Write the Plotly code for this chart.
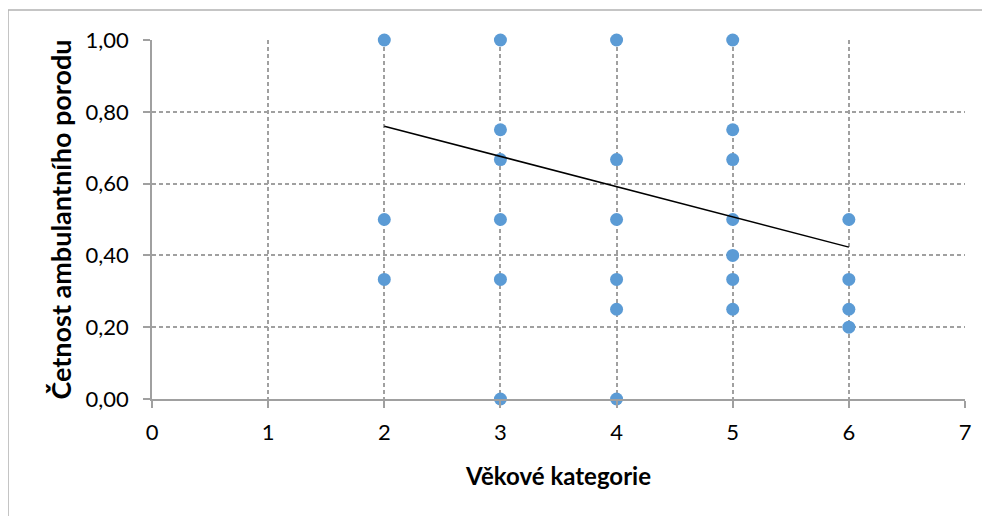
import plotly.graph_objects as go

# pozorované hodnoty (věková kategorie, četnost)
x_vals = [2, 2, 2,
          3, 3, 3, 3, 3, 3,
          4, 4, 4, 4, 4, 4,
          5, 5, 5, 5, 5, 5, 5,
          6, 6, 6, 6]
y_vals = [1.00, 0.50, 0.333,
          1.00, 0.75, 0.667, 0.50, 0.333, 0.00,
          1.00, 0.667, 0.50, 0.333, 0.25, 0.00,
          1.00, 0.75, 0.667, 0.50, 0.40, 0.333, 0.25,
          0.50, 0.333, 0.25, 0.20]

# lineární trend (koncové body)
trend_x = [2, 6]
trend_y = [0.760, 0.423]

x_ticks = [0, 1, 2, 3, 4, 5, 6, 7]
y_ticks = [0.0, 0.2, 0.4, 0.6, 0.8, 1.0]
y_labels = ["0,00", "0,20", "0,40", "0,60", "0,80", "1,00"]

FONT = "Lato, Open Sans, sans-serif"
GRID = "#a0a0a0"

fig = go.Figure()
fig.add_trace(go.Scatter(x=x_vals, y=y_vals, mode="markers", cliponaxis=False,
                         marker=dict(color="#5b9bd5", size=13), showlegend=False))
fig.add_trace(go.Scatter(x=trend_x, y=trend_y, mode="lines", cliponaxis=False,
                         line=dict(color="black", width=1.5), showlegend=False))

# rámeček grafu
fig.add_shape(type="rect", xref="paper", yref="paper",
              x0=-0.1771, x1=1.06, y0=-0.36, y1=1.0836,
              line=dict(color="#b3b3b3", width=1.5), layer="below")

fig.update_layout(
    width=990, height=516,
    margin=dict(l=144, r=33, t=32, b=125),
    paper_bgcolor="white", plot_bgcolor="white",
    font=dict(family=FONT, color="black"),
    xaxis=dict(range=[0, 7], tickvals=x_ticks, showgrid=True, gridcolor=GRID,
               griddash="4px,3px", gridwidth=1.5, zeroline=False,
               showline=True, linecolor=GRID, linewidth=1.5,
               ticks="outside", ticklen=7, tickcolor=GRID, tickwidth=1.5,
               tickfont=dict(size=22), ticklabelstandoff=6,
               title=dict(text="<b>Věkové kategorie</b>", font=dict(size=24), standoff=24)),
    yaxis=dict(range=[0, 1], tickvals=y_ticks, ticktext=y_labels, showgrid=True,
               gridcolor=GRID, griddash="4px,3px", gridwidth=1.5, zeroline=False,
               showline=True, linecolor=GRID, linewidth=1.5,
               ticks="outside", ticklen=7, tickcolor=GRID, tickwidth=1.5,
               tickfont=dict(size=22), ticklabelstandoff=10,
               title=dict(text="<b>Četnost ambulantního porodu</b>", font=dict(size=27), standoff=6)),
)

fig.write_html("out.html")
